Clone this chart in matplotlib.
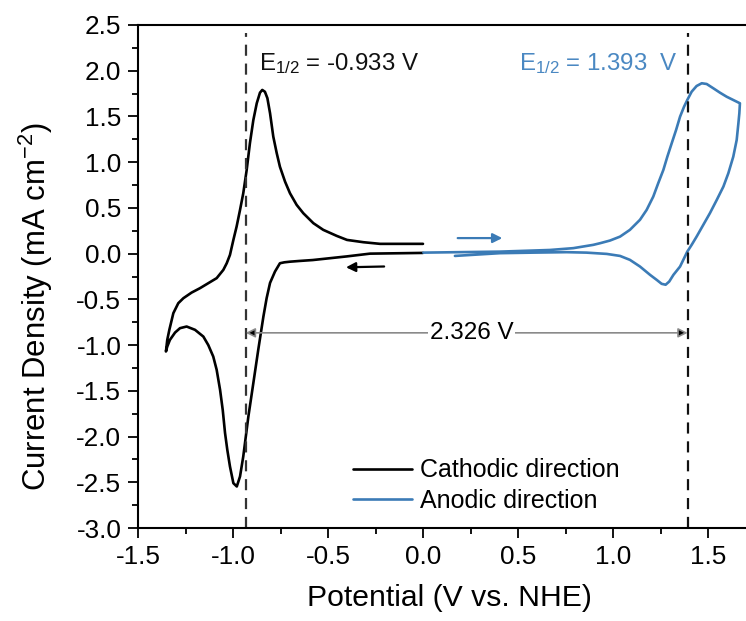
import matplotlib
matplotlib.use("Agg")
import matplotlib.pyplot as plt
from matplotlib.ticker import MultipleLocator, FormatStrFormatter

plt.rcParams['font.family'] = ['Liberation Sans', 'DejaVu Sans']
plt.rcParams['mathtext.fontset'] = 'custom'
plt.rcParams['mathtext.rm'] = 'Liberation Sans'
plt.rcParams['mathtext.it'] = 'Liberation Sans:italic'
plt.rcParams['mathtext.bf'] = 'Liberation Sans:bold'

# Cathodic scan (black): start at 0 V, sweep negative, return to 0 V
cath_x = [0.0, -0.1, -0.279, -0.4, -0.49, -0.58, -0.65, -0.70, -0.73, -0.753, -0.779,
          -0.805, -0.823, -0.84, -0.867, -0.893, -0.919, -0.946, -0.963, -0.98, -0.998,
          -1.016, -1.03, -1.042, -1.054, -1.068, -1.086, -1.104, -1.13, -1.156, -1.2,
          -1.244, -1.279, -1.305, -1.332, -1.346, -1.353,
          -1.346, -1.335, -1.314, -1.288, -1.261, -1.218, -1.174, -1.13, -1.086, -1.051,
          -1.033, -1.016, -0.998, -0.981, -0.963, -0.946, -0.928, -0.911, -0.893, -0.875,
          -0.858, -0.846, -0.832, -0.819, -0.805, -0.788, -0.77, -0.753, -0.726, -0.70,
          -0.665, -0.63, -0.577, -0.525, -0.454, -0.40, -0.314, -0.226, 0.0]
cath_y = [0.008, 0.005, 0.0, -0.03, -0.05, -0.07, -0.08, -0.088, -0.095, -0.105, -0.196,
          -0.32, -0.487, -0.688, -1.05, -1.416, -1.78, -2.218, -2.436, -2.546, -2.51,
          -2.327, -2.145, -1.96, -1.71, -1.49, -1.27, -1.125, -1.0, -0.907, -0.833,
          -0.797, -0.815, -0.863, -0.943, -1.016, -1.07,
          -0.943, -0.833, -0.651, -0.542, -0.487, -0.426, -0.378, -0.323, -0.268, -0.178,
          -0.105, -0.014, 0.15, 0.296, 0.478, 0.66, 0.915, 1.207, 1.46, 1.644,
          1.76, 1.79, 1.77, 1.70, 1.535, 1.28, 1.10, 0.95, 0.787, 0.66,
          0.533, 0.442, 0.333, 0.26, 0.194, 0.15, 0.125, 0.107, 0.107]

# Anodic scan (blue): start at 0 V, sweep positive, return
anod_x = [0.002, 0.405, 0.668, 0.791, 0.896, 0.932, 0.984, 1.037, 1.089, 1.142, 1.177,
          1.212, 1.238, 1.265, 1.286, 1.309, 1.332, 1.353, 1.374, 1.391, 1.414, 1.44,
          1.467, 1.493, 1.528, 1.563, 1.598, 1.633, 1.668,
          1.665, 1.66, 1.651, 1.633, 1.607, 1.581, 1.546, 1.51, 1.475, 1.44, 1.414,
          1.391, 1.37, 1.353, 1.318, 1.296, 1.277, 1.256, 1.23, 1.195, 1.142, 1.089,
          1.037, 0.967, 0.861, 0.756, 0.58, 0.405, 0.168]
anod_y = [0.011, 0.022, 0.04, 0.06, 0.096, 0.114, 0.143, 0.186, 0.26, 0.37, 0.478,
          0.624, 0.77, 0.915, 1.06, 1.207, 1.352, 1.498, 1.607, 1.68, 1.771, 1.833,
          1.863, 1.855, 1.808, 1.76, 1.716, 1.68, 1.644,
          1.535, 1.426, 1.243, 1.06, 0.879, 0.733, 0.587, 0.442, 0.314, 0.186, 0.096,
          0.022, -0.068, -0.141, -0.232, -0.305, -0.34, -0.33, -0.287, -0.232, -0.141, -0.068,
          -0.025, -0.003, 0.011, 0.016, 0.011, 0.005, -0.025]

e_half_cath = -0.933
e_half_anod = 1.393
gap_label = "2.326 V"
labels = ["Cathodic direction", "Anodic direction"]
x_ticks = [-1.5, -1.0, -0.5, 0.0, 0.5, 1.0, 1.5]
y_ticks = [-3.0, -2.5, -2.0, -1.5, -1.0, -0.5, 0.0, 0.5, 1.0, 1.5, 2.0, 2.5]

blue = '#3b7bb6'
blue_text = '#4a88c2'

fig = plt.figure(figsize=(7.46, 6.21), dpi=100)
ax = fig.add_axes([138/746, 93/621, 608/746, 503/621])

ax.plot(cath_x, cath_y, color='black', lw=1.9, label=labels[0],
        solid_joinstyle='round', solid_capstyle='round')
ax.plot(anod_x, anod_y, color=blue, lw=1.9, label=labels[1],
        solid_joinstyle='round', solid_capstyle='round')

ax.axvline(e_half_cath, ymax=0.985, color='#333333', lw=1.6, ls=(0, (5, 3.5)))
ax.axvline(e_half_anod, ymax=0.985, color='#111111', lw=1.6, ls=(0, (5, 3.5)))

ax.text(-0.863, 2.01, r"E$_{1/2}$ = -0.933 V", fontsize=17.3, color='#111111',
        va='baseline', ha='left')
ax.text(1.342, 2.01, r"E$_{1/2}$ = 1.393  V", fontsize=17.3, color=blue_text,
        va='baseline', ha='right')

# direction arrows
ax.annotate('', xy=(-0.42, -0.15), xytext=(-0.19, -0.14),
            arrowprops=dict(arrowstyle='-|>', color='black', lw=1.6, mutation_scale=14))
ax.annotate('', xy=(0.432, 0.17), xytext=(0.168, 0.17),
            arrowprops=dict(arrowstyle='-|>', color=blue, lw=1.6, mutation_scale=14))

# peak separation arrow
ax.annotate('', xy=(e_half_cath, -0.866), xytext=(e_half_anod, -0.866),
            arrowprops=dict(arrowstyle='<|-|>', ec='#8a8a8a', fc='black', lw=1.2,
                            mutation_scale=14, shrinkA=0, shrinkB=0))
ax.text(0.256, -0.866, gap_label, fontsize=17.5, ha='center', va='center',
        bbox=dict(fc='white', ec='none', pad=1.0))

ax.set_xlim(-1.5, 1.7)
ax.set_ylim(-3.0, 2.5)
ax.set_xticks(x_ticks)
ax.set_yticks(y_ticks)
ax.xaxis.set_major_formatter(FormatStrFormatter('%.1f'))
ax.yaxis.set_major_formatter(FormatStrFormatter('%.1f'))
ax.xaxis.set_minor_locator(MultipleLocator(0.25))
ax.yaxis.set_minor_locator(MultipleLocator(0.25))
ax.tick_params(which='major', direction='out', length=7, width=1.3, labelsize=18.8, pad=5)
ax.tick_params(which='minor', direction='out', length=4, width=1.3)
ax.tick_params(top=False, right=False, which='both')
ax.spines['right'].set_visible(False)
for s in ['left', 'bottom', 'top']:
    ax.spines[s].set_linewidth(1.5)

ax.set_xlabel("Potential (V vs. NHE)", fontsize=21.7, labelpad=11)
ax.set_ylabel(r"Current Density (mA cm$^{-2}$)", fontsize=22.4, labelpad=15)
ax.xaxis.label.set_x(0.513)
ax.yaxis.label.set_y(0.44)

ax.legend(loc='center left', bbox_to_anchor=(0.317, 0.0845), frameon=False, fontsize=18,
          handlelength=2.36, handletextpad=0.3, labelspacing=0.25, borderpad=0.4)

fig.savefig("out.png", dpi=100)
